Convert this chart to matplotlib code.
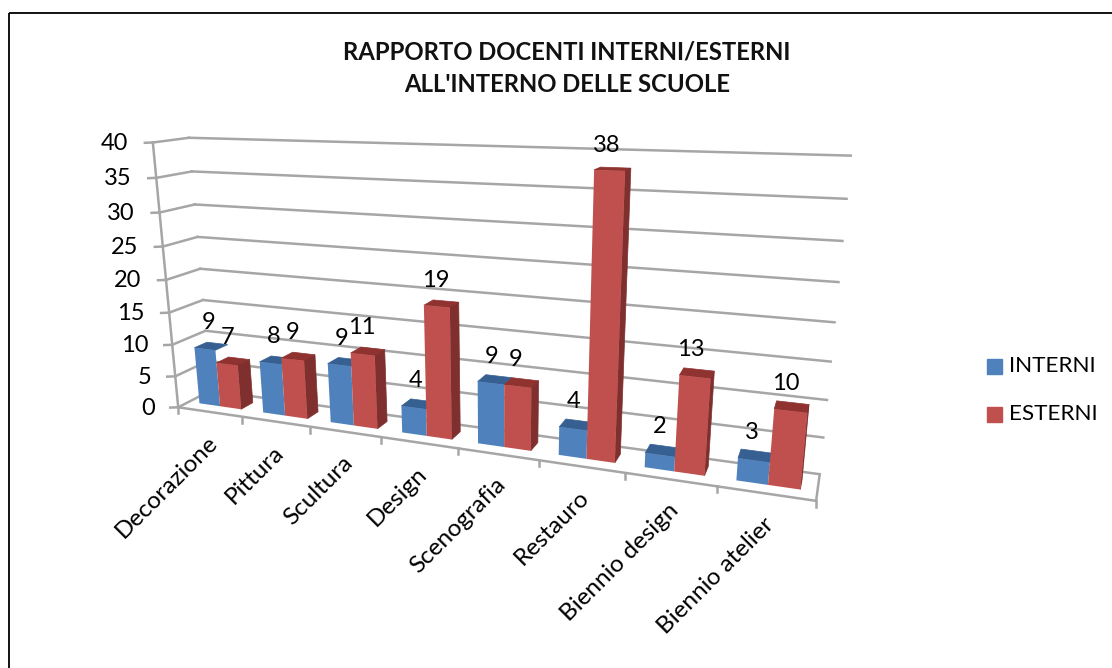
import numpy as np
import matplotlib
matplotlib.use("Agg")
import matplotlib.pyplot as plt
from matplotlib.patches import Polygon, Rectangle
from matplotlib.transforms import Transform

categories = ["Decorazione", "Pittura", "Scultura", "Design", "Scenografia",
              "Restauro", "Biennio design", "Biennio atelier"]
interni = [9, 8, 9, 4, 9, 4, 2, 3]
esterni = [7, 9, 11, 19, 9, 38, 13, 10]
yticks = [0, 5, 10, 15, 20, 25, 30, 35, 40]
title_lines = ["RAPPORTO DOCENTI INTERNI/ESTERNI", "ALL'INTERNO DELLE SCUOLE"]

W, H = 1112, 668
plt.rcParams['font.family'] = ['Lato', 'DejaVu Sans']
fig = plt.figure(figsize=(W / 100, H / 100), dpi=100)
ax = fig.add_axes([0, 0, 1, 1])
ax.set_xlim(0, W)
ax.set_ylim(H, 0)
ax.axis('off')

# camera fitted from the plot box corners: (category, value, depth) -> canvas position
anchors = [
    ((0, 0, 0), (178, 407)), ((1, 0, 0), (243, 416)), ((2, 0, 0), (310, 426)),
    ((3, 0, 0), (382, 437)), ((4, 0, 0), (458, 448)), ((5, 0, 0), (538, 460)),
    ((6, 0, 0), (624, 473)), ((7, 0, 0), (717, 487)), ((8, 0, 0), (817, 502)),
    ((0, 40, 0), (152, 143)), ((0, 40, 1), (190, 137)), ((8, 40, 1), (851, 156)),
    ((8, 0, 1), (820, 473)), ((0, 0, 1), (210, 392)),
    ((8, 20, 1), (834, 322)), ((0, 20, 1), (200, 269)),
]
rows, rhs = [], []
for (x, v, d), (u, t) in anchors:
    rows.append([x, v, d, 1, 0, 0, 0, 0, -u * x, -u * v, -u * d])
    rhs.append(u)
    rows.append([0, 0, 0, 0, x, v, d, 1, -t * x, -t * v, -t * d])
    rhs.append(t)
p = np.linalg.lstsq(np.array(rows, float), np.array(rhs, float), rcond=None)[0]
CAM = np.append(p, 1.0).reshape(3, 4)


def project(x, v, d):
    q = CAM @ np.array([x, v, d, 1.0])
    return q[0] / q[2], q[1] / q[2]


class Wall(Transform):
    """Perspective from (category, value) at a fixed depth to canvas position."""
    input_dims = output_dims = 2
    is_separable = False
    has_inverse = False

    def __init__(self, plane):
        super().__init__()
        self.plane = plane

    def transform_non_affine(self, xy):
        xy = np.asarray(xy, float)
        h = np.column_stack([xy[:, 0], xy[:, 1], np.full(len(xy), self.plane), np.ones(len(xy))])
        q = h @ CAM.T
        return q[:, :2] / q[:, 2:3]


GRID = '#a6a6a6'
INK = 'black'
BLUE, BLUE_TOP = '#4f81bd', '#376092'
RED, RED_SIDE, RED_TOP = '#c0504d', '#7f302e', '#8f3230'
BAR_W = 0.33
GAP = 0.17
D0, D1 = 0.32, 0.70


def poly(pts, color, z):
    ax.add_patch(Polygon([project(*q) for q in pts], closed=True, facecolor=color,
                         edgecolor=color, linewidth=0.5, zorder=z))


# frame
ax.add_patch(Rectangle((9, 12.5), W + 30, H + 30, fill=False, edgecolor=INK, linewidth=1.3, zorder=0))

# walls and grid
for v in yticks:
    ax.plot([0, 8], [v, v], transform=Wall(1) + ax.transData, color=GRID, lw=1.8, zorder=1)
    a, b = project(0, v, 0), project(0, v, 1)
    ax.plot([a[0], b[0]], [a[1], b[1]], color=GRID, lw=1.8, zorder=1)
    ax.plot([a[0] - 8, a[0]], [a[1] + 0.3, a[1]], color=GRID, lw=1.8, zorder=1)
    ax.text(a[0] - 25 + (a[0] - 152) * 0.05, a[1] + 1, str(v), ha='right', va='center',
            fontsize=17, color=INK, zorder=5)
ax.plot([0, 0], [0, 40], transform=Wall(0) + ax.transData, color=GRID, lw=1.8, zorder=1)

# floor
ax.plot([0, 8], [0, 0], transform=Wall(0) + ax.transData, color=GRID, lw=1.8, zorder=1)
a, b = project(8, 0, 0), project(8, 0, 1)
ax.plot([a[0], b[0]], [a[1], b[1]], color=GRID, lw=1.8, zorder=1)
for i in range(9):
    a = project(i, 0, 0)
    ax.plot([a[0], a[0]], [a[1], a[1] + 6], color=GRID, lw=1.8, zorder=1)

# bars
front = Wall(D0) + ax.transData
for i, (bv, rv) in enumerate(zip(interni, esterni)):
    z = 10 + 2 * i
    bl, br = i + GAP, i + GAP + BAR_W
    rl, rr = br, br + BAR_W
    poly([(bl, bv, D0), (br, bv, D0), (br, bv, D1), (bl, bv, D1)], BLUE_TOP, z)
    poly([(rl, rv, D0), (rr, rv, D0), (rr, rv, D1), (rl, rv, D1)], RED_TOP, z + 0.2)
    poly([(rr, 0, D0), (rr, rv, D0), (rr, rv, D1), (rr, 0, D1)], RED_SIDE, z + 0.2)
    ax.bar(bl, bv, width=BAR_W, align='edge', color=BLUE, transform=front, zorder=z + 0.1)
    ax.bar(rl, rv, width=BAR_W, align='edge', color=RED, transform=front, zorder=z + 0.3)
    lx, ly = project((bl + br) / 2, bv, (D0 + D1) / 2)
    ax.text(lx - 3, ly - 13, str(bv), ha='center', va='bottom', fontsize=17, color=INK, zorder=40)
    lx, ly = project((rl + rr) / 2, rv, (D0 + D1) / 2)
    ax.text(lx - 6, ly - 13, str(rv), ha='center', va='bottom', fontsize=17, color=INK, zorder=40)

ax.set_xlim(0, W)
ax.set_ylim(H, 0)

# category labels
for i, name in enumerate(categories):
    a = project(i + 0.5, 0, 0)
    ax.text(a[0] - 3, a[1] + 20, name, rotation=45, rotation_mode='anchor', ha='right', va='top',
            fontsize=17.5, color=INK, zorder=5)

# title
for line, y in zip(title_lines, [52, 85]):
    ax.text(567, y, line, ha='center', va='center', fontsize=17.2, fontweight='bold', color='#111111')

# legend
for name, color, y in [("INTERNI", BLUE, 366.5), ("ESTERNI", RED, 414.5)]:
    ax.add_patch(Rectangle((987, y - 7.5), 15, 15, facecolor=color, edgecolor=color))
    ax.text(1009, y, name, ha='left', va='center', fontsize=16.2, color=INK)

fig.savefig('out.png', dpi=100)
